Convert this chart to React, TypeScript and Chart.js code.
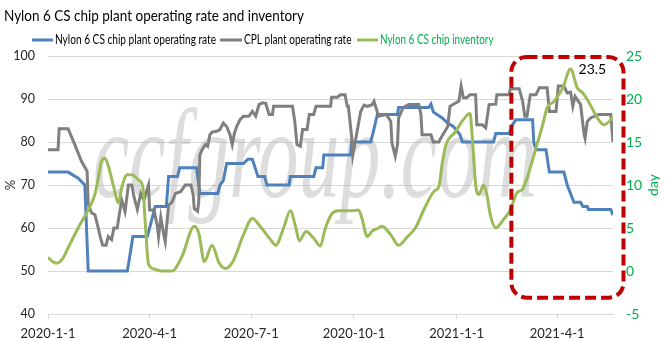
import React, { useEffect, useRef } from 'react';
import { Chart, registerables } from 'chart.js';

Chart.register(...registerables);

const TITLE = 'Nylon 6 CS chip plant operating rate and inventory';
const seriesNames = ['Nylon 6 CS chip plant operating rate', 'CPL plant operating rate', 'Nylon 6 CS chip inventory'];
const leftAxisTitle = '%';
const rightAxisTitle = 'day';
const watermarkText = 'ccfgroup.com';

const tickDates = ['2020-01-01', '2020-04-01', '2020-07-01', '2020-10-01', '2021-01-01', '2021-04-01'];
const tickLabels = ['2020-1-1', '2020-4-1', '2020-7-1', '2020-10-1', '2021-1-1', '2021-4-1'];
const axisStartDate = '2020-01-01';
const axisEndDate = '2021-05-21';
const leftRange = [40, 100, 10];
const rightRange = [-5, 25, 5];

const highlightStart = '2021-02-19';
const highlightBottom = -3.1;
const peakDate = '2021-04-13';
const peakValue = 23.5;

const blueDates = ['2020-01-01','2020-01-19','2020-01-28','2020-02-03','2020-02-06','2020-03-12','2020-03-14','2020-03-17','2020-03-30','2020-04-03','2020-04-06','2020-04-16','2020-04-18','2020-04-26','2020-04-28','2020-05-13','2020-05-16','2020-06-01','2020-06-03','2020-06-06','2020-06-09','2020-06-24','2020-06-28','2020-07-02','2020-07-07','2020-07-13','2020-07-15','2020-08-04','2020-08-05','2020-08-26','2020-08-28','2020-09-03','2020-09-04','2020-09-28','2020-09-29','2020-10-16','2020-10-18','2020-10-22','2020-11-09','2020-11-10','2020-12-07','2020-12-09','2020-12-11','2020-12-19','2020-12-24','2020-12-29','2021-01-04','2021-01-06','2021-02-03','2021-02-05','2021-02-17','2021-02-20','2021-02-23','2021-03-10','2021-03-11','2021-03-13','2021-03-22','2021-03-25','2021-04-07','2021-04-10','2021-04-13','2021-04-16','2021-04-22','2021-04-24','2021-04-28','2021-04-29','2021-05-19','2021-05-21'];
const blueValues = [73,73,71.6,70,50,50,53,58,58,62,65,65,72,72,74,74,68,68,70,71,75,75,76,76,72,72,70,70,72,72,74,74,77,77,80,80,82,86.4,86.4,88,88,88.8,87,85.6,84.4,83.6,81.7,80,80,82,82,84,85.2,85.2,80,78.2,78.2,73,73,70,68,66,66,65,65,64.3,64.3,63];

const grayDates = ['2020-01-01','2020-01-10','2020-01-11','2020-01-19','2020-01-25','2020-01-31','2020-02-05','2020-02-06','2020-02-09','2020-02-12','2020-02-15','2020-02-17','2020-02-19','2020-02-22','2020-02-24','2020-02-27','2020-02-29','2020-03-03','2020-03-05','2020-03-07','2020-03-10','2020-03-13','2020-03-16','2020-03-18','2020-03-21','2020-03-24','2020-03-27','2020-03-28','2020-03-31','2020-04-01','2020-04-05','2020-04-08','2020-04-09','2020-04-11','2020-04-14','2020-04-15','2020-04-17','2020-04-18','2020-04-21','2020-04-24','2020-04-29','2020-05-03','2020-05-08','2020-05-10','2020-05-11','2020-05-14','2020-05-15','2020-05-16','2020-05-18','2020-05-21','2020-05-23','2020-05-25','2020-05-27','2020-05-31','2020-06-03','2020-06-06','2020-06-09','2020-06-12','2020-06-14','2020-06-16','2020-06-18','2020-06-21','2020-06-24','2020-06-29','2020-07-02','2020-07-05','2020-07-08','2020-07-11','2020-07-14','2020-07-17','2020-07-20','2020-07-21','2020-08-07','2020-08-09','2020-08-11','2020-08-14','2020-08-16','2020-08-20','2020-08-22','2020-08-26','2020-08-28','2020-09-10','2020-09-11','2020-09-16','2020-09-19','2020-09-23','2020-09-25','2020-09-26','2020-09-29','2020-09-30','2020-10-02','2020-10-07','2020-10-10','2020-10-13','2020-10-17','2020-10-19','2020-10-23','2020-10-30','2020-11-03','2020-11-04','2020-11-07','2020-11-09','2020-11-10','2020-11-14','2020-11-19','2020-11-28','2020-11-30','2020-12-01','2020-12-09','2020-12-11','2020-12-16','2020-12-18','2020-12-24','2020-12-26','2021-01-03','2021-01-05','2021-01-07','2021-01-10','2021-01-13','2021-01-18','2021-01-19','2021-01-24','2021-01-27','2021-01-30','2021-02-05','2021-02-06','2021-02-17','2021-02-18','2021-02-26','2021-03-01','2021-03-03','2021-03-05','2021-03-07','2021-03-08','2021-03-13','2021-03-16','2021-03-23','2021-03-25','2021-03-31','2021-04-02','2021-04-07','2021-04-10','2021-04-13','2021-04-15','2021-04-17','2021-04-22','2021-04-25','2021-04-26','2021-04-28','2021-05-01','2021-05-08','2021-05-19','2021-05-21'];
const grayValues = [78.2,78.2,83.1,83.1,79.4,75.5,73.2,65.5,63.5,63.1,60,57.7,56,56,58,57.3,60,60,63.4,66.5,63.8,70,70,67.3,64.3,68,66.5,67.6,70,64.2,64.2,60.3,58,62.5,58,56.8,62.6,65.3,66,68,68.5,70,70,67.8,64.5,63.9,66,77,78.2,79.4,79,81.7,82.3,82.5,82.9,84.4,83.6,81.7,79.4,82.1,83.6,85.2,86,86,87.1,86,88.7,89.1,89,86.4,86.4,88.3,88.3,84.8,79.4,79,82.9,82.9,86.4,86.4,88.3,88.3,90.4,90.4,91,91,88.3,88.3,81,77,79.8,87.1,88.6,88.3,88.6,89.5,86,86.4,84.8,79.8,76.7,79.4,85.6,88,88.7,88.7,86.4,81.7,81.7,80,80,81,83.6,88.3,89.5,93,90.3,90.3,91,91,84,84,83.3,88.7,88.8,91,91,92.4,92.4,89.5,86,86,89.5,91,91,92.6,92.6,87.1,87.1,93,93,91.4,91.6,88.3,90.6,88.7,82,80.9,84.8,85.6,86.4,86.4,80];

const greenDates = ['2020-01-01','2020-01-05','2020-01-09','2020-01-14','2020-01-19','2020-01-28','2020-02-06','2020-02-12','2020-02-15','2020-02-18','2020-02-21','2020-02-24','2020-02-29','2020-03-04','2020-03-07','2020-03-12','2020-03-16','2020-03-22','2020-03-26','2020-03-28','2020-03-31','2020-04-06','2020-04-11','2020-04-21','2020-04-30','2020-05-11','2020-05-15','2020-05-20','2020-05-27','2020-06-02','2020-06-08','2020-06-15','2020-06-24','2020-07-02','2020-07-09','2020-07-18','2020-07-23','2020-07-30','2020-08-05','2020-08-10','2020-08-13','2020-08-19','2020-08-26','2020-09-01','2020-09-05','2020-09-11','2020-09-17','2020-09-29','2020-10-05','2020-10-08','2020-10-13','2020-10-17','2020-10-23','2020-10-26','2020-11-03','2020-11-10','2020-11-18','2020-11-25','2020-12-04','2020-12-12','2020-12-16','2020-12-19','2020-12-22','2020-12-31','2021-01-07','2021-01-13','2021-01-15','2021-01-18','2021-01-21','2021-01-25','2021-01-28','2021-01-31','2021-02-05','2021-02-12','2021-02-18','2021-02-24','2021-03-01','2021-03-05','2021-03-13','2021-03-19','2021-03-23','2021-03-29','2021-04-06','2021-04-13','2021-04-19','2021-04-24','2021-04-29','2021-05-07','2021-05-13','2021-05-19','2021-05-21'];
const greenValues = [1.6,1.1,0.9,1.4,2.7,5,7.1,8.9,10.8,12.8,13.1,12.2,9.7,7.9,9.7,11.2,11.2,10.6,9.7,5.8,0.8,0.2,0,0,1.7,5.2,4.4,1.1,3,1,0.3,1.2,4.2,6.1,5.2,3.7,3,5,7,5,3.5,4.6,3.8,2.9,4.8,6.6,7,7,7.1,6.2,4,4.6,5,5.2,4.2,3,4,5,7.5,9.3,9.8,12.4,14.5,16.2,17.6,18.3,15.5,10,8.9,10,8.9,6.6,5,6,7.1,9.1,9.5,10.8,14.3,17,19,19.7,21.3,23.5,21.3,20.7,19.7,17.8,17,17.6,18];

const BLUE = '#4F81BD';
const GRAY = '#7F7F7F';
const GREEN = '#9BBB59';
const GREEN_TEXT = '#00B050';
const GRID = '#D9D9D9';
const TXT = '#262626';
const RED = '#C00000';
const FONT = 'Lato';

const START = (() => { const [y, m, d] = axisStartDate.split('-').map(Number); return Date.UTC(y, m - 1, d); })();
const dayOf = (s: string) => {
  const [y, m, d] = s.split('-').map(Number);
  return Math.round((Date.UTC(y, m - 1, d) - START) / 86400000);
};
const toPoints = (dates: string[], values: number[]) => dates.map((d, i) => ({ x: dayOf(d), y: values[i] }));

// draw text at a given font size, compressed horizontally to a target width (Calibri-like proportions)
function fitText(ctx: CanvasRenderingContext2D, text: string, size: number, target: number, x: number, y: number) {
  ctx.font = `${size}px ${FONT}`;
  const w = ctx.measureText(text).width;
  const sx = Math.min(1, target / w);
  ctx.save();
  ctx.translate(x, y);
  ctx.scale(sx, 1);
  ctx.fillText(text, 0, 0);
  ctx.restore();
}

const decor = {
  id: 'decor',
  beforeDatasetsDraw(chart: any) {
    const ctx: CanvasRenderingContext2D = chart.ctx;
    const area = chart.chartArea;
    ctx.save();
    ctx.font = `italic 127px "Liberation Serif"`;
    const w = ctx.measureText(watermarkText).width;
    ctx.translate(area.left + 45, area.top + 141);
    ctx.scale(444 / w, 1);
    ctx.fillStyle = 'rgba(160,160,160,0.36)';
    ctx.textBaseline = 'alphabetic';
    ctx.textAlign = 'left';
    ctx.fillText(watermarkText, 0, 0);
    ctx.restore();
  },
  afterDraw(chart: any) {
    const ctx: CanvasRenderingContext2D = chart.ctx;
    const area = chart.chartArea;
    const xs = chart.scales.x;
    const y1 = chart.scales.y1;
    ctx.save();
    // title
    ctx.fillStyle = '#000';
    ctx.textAlign = 'left';
    ctx.textBaseline = 'alphabetic';
    fitText(ctx, TITLE, 16, 300, 4, 21);

    // legend
    const legendItems = [
      { x0: 32, x1: 53, tx: 55, w: 161, color: BLUE, text: seriesNames[0], tc: '#000' },
      { x0: 220, x1: 242, tx: 244, w: 107.5, color: GRAY, text: seriesNames[1], tc: '#000' },
      { x0: 357, x1: 378, tx: 380, w: 113.5, color: GREEN, text: seriesNames[2], tc: GREEN_TEXT },
    ];
    ctx.lineWidth = 3;
    ctx.textBaseline = 'middle';
    for (const it of legendItems) {
      ctx.strokeStyle = it.color;
      ctx.beginPath();
      ctx.moveTo(it.x0, 40);
      ctx.lineTo(it.x1, 40);
      ctx.stroke();
      ctx.fillStyle = it.tc;
      fitText(ctx, it.text, 13.5, it.w, it.tx, 40);
    }

    // axis titles
    const midY = (area.top + area.bottom) / 2;
    ctx.save();
    ctx.translate(11, midY);
    ctx.rotate(-Math.PI / 2);
    ctx.font = `13px ${FONT}`;
    ctx.fillStyle = TXT;
    ctx.textAlign = 'center';
    ctx.textBaseline = 'middle';
    ctx.fillText(leftAxisTitle, 0, 0);
    ctx.restore();

    ctx.save();
    ctx.translate(653, midY);
    ctx.rotate(-Math.PI / 2);
    ctx.font = `14px ${FONT}`;
    ctx.fillStyle = GREEN_TEXT;
    ctx.textAlign = 'center';
    ctx.textBaseline = 'middle';
    ctx.fillText(rightAxisTitle, 0, 0);
    ctx.restore();

    // peak label
    const px = xs.getPixelForValue(dayOf(peakDate));
    const py = y1.getPixelForValue(peakValue);
    ctx.font = `14px ${FONT}`;
    ctx.fillStyle = '#000';
    ctx.textAlign = 'left';
    ctx.textBaseline = 'middle';
    ctx.fillText(String(peakValue), px + 8, py + 1);

    // highlight box
    const left = xs.getPixelForValue(dayOf(highlightStart));
    const right = area.right + 10.5;
    const top = area.top + 1;
    const bottom = y1.getPixelForValue(highlightBottom);
    const r = 15;
    ctx.strokeStyle = RED;
    ctx.lineWidth = 4;
    ctx.setLineDash([11, 5]);
    ctx.beginPath();
    ctx.moveTo(left + r, top);
    ctx.lineTo(right - r, top);
    ctx.arcTo(right, top, right, top + r, r);
    ctx.lineTo(right, bottom - r);
    ctx.arcTo(right, bottom, right - r, bottom, r);
    ctx.lineTo(left + r, bottom);
    ctx.arcTo(left, bottom, left, bottom - r, r);
    ctx.lineTo(left, top + r);
    ctx.arcTo(left, top, left + r, top, r);
    ctx.closePath();
    ctx.stroke();
    ctx.restore();
  },
};

export default function App() {
  const ref = useRef<HTMLCanvasElement>(null);
  useEffect(() => {
    document.body.style.margin = '0';
    const canvas = ref.current!;
    const chart = new Chart(canvas, {
      type: 'line',
      data: {
        datasets: [
          { label: seriesNames[0], data: toPoints(blueDates, blueValues), borderColor: BLUE, backgroundColor: BLUE, borderWidth: 3, pointRadius: 0, yAxisID: 'y', order: 2, tension: 0 },
          { label: seriesNames[1], data: toPoints(grayDates, grayValues), borderColor: GRAY, backgroundColor: GRAY, borderWidth: 3, pointRadius: 0, yAxisID: 'y', order: 1, tension: 0 },
          { label: seriesNames[2], data: toPoints(greenDates, greenValues), borderColor: GREEN, backgroundColor: GREEN, borderWidth: 3, pointRadius: 0, yAxisID: 'y1', order: 0, cubicInterpolationMode: 'monotone' },
        ],
      } as any,
      options: {
        animation: false,
        responsive: false,
        maintainAspectRatio: false,
        layout: { padding: { top: 56, left: 0, right: 0, bottom: 0 } },
        plugins: { legend: { display: false }, title: { display: false }, tooltip: { enabled: false } },
        scales: {
          x: {
            type: 'linear',
            min: dayOf(axisStartDate),
            max: dayOf(axisEndDate),
            afterBuildTicks: (s: any) => { s.ticks = tickDates.map((d) => ({ value: dayOf(d) })); },
            afterFit: (s: any) => { s.height = 27; },
            grid: { drawOnChartArea: false, drawTicks: true, tickLength: 5, color: GRID },
            border: { display: true, color: GRID },
            ticks: {
              autoSkip: false, maxRotation: 0, padding: 7, color: TXT, font: { family: FONT, size: 13 },
              callback: (v: any) => { const i = tickDates.findIndex((d) => dayOf(d) === v); return i >= 0 ? tickLabels[i] : ''; },
            },
          },
          y: {
            position: 'left', min: leftRange[0], max: leftRange[1],
            afterFit: (s: any) => { s.width = 48; },
            grid: { color: GRID, drawTicks: false },
            border: { display: false },
            ticks: { stepSize: leftRange[2], padding: 13, color: TXT, font: { family: FONT, size: 12.5 } },
          },
          y1: {
            position: 'right', min: rightRange[0], max: rightRange[1],
            afterFit: (s: any) => { s.width = 52; },
            grid: { display: false, drawTicks: false },
            border: { display: false },
            ticks: { stepSize: rightRange[2], padding: 13, color: GREEN_TEXT, font: { family: FONT, size: 14 } },
          },
        },
      } as any,
      plugins: [decor],
    });
    return () => chart.destroy();
  }, []);
  return (
    <div style={{ width: 665, height: 341 }}>
      <canvas ref={ref} width={665} height={341} style={{ display: 'block' }} />
    </div>
  );
}
